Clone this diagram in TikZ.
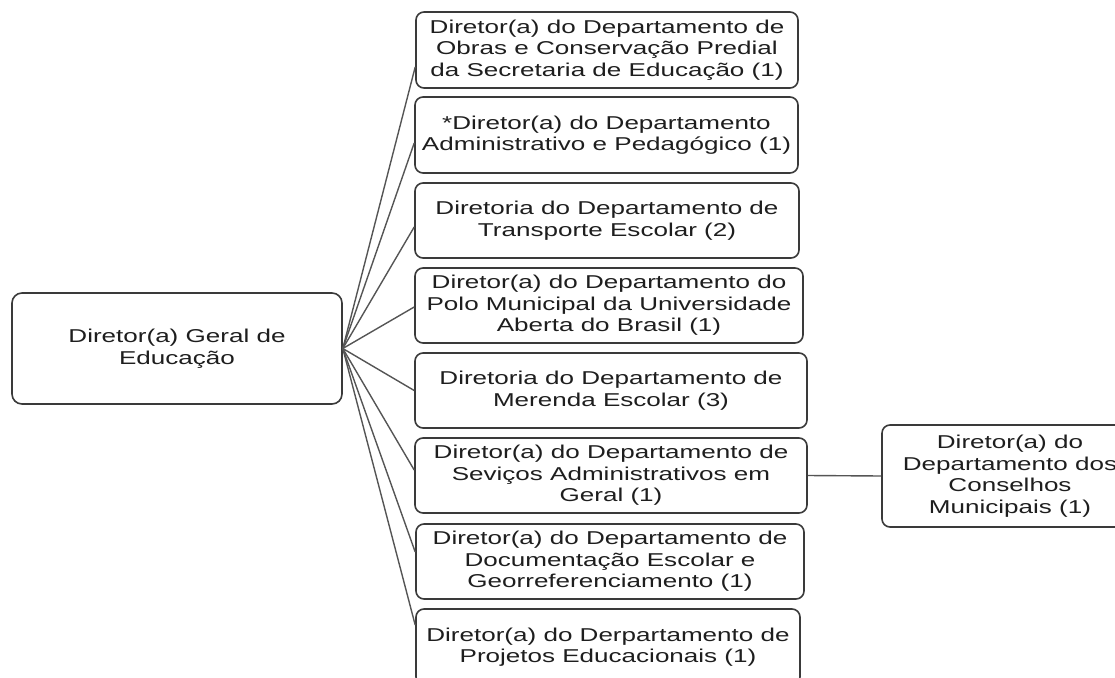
\documentclass[tikz,border=0pt]{standalone}
\usepackage{fontspec}
\setmainfont{Liberation Sans}[FakeStretch=1.4]
\definecolor{bordc}{HTML}{3A3A3A}
\definecolor{linec}{HTML}{555555}
\definecolor{txtc}{HTML}{1E1E1E}
\begin{document}
\begin{tikzpicture}[x=1pt,y=-1pt,
  box/.style={draw=bordc, line width=1.6pt, rounded corners=8pt, fill=white,
    align=center, inner sep=0pt, font=\fontsize{18.6}{21.5}\selectfont, text=txtc},
  link/.style={draw=linec, line width=1.4pt}]
\clip (0,0) rectangle (1115,677);
\node[box, minimum width=330pt, minimum height=111pt, rounded corners=10pt] (root) at (177,348.5) {Diretor(a) Geral de\\Educação};
\node[box, minimum width=382pt, minimum height=76pt] (b1) at (607,50) {Diretor(a) do Departamento de\\Obras e Conservação Predial\\da Secretaria de Educação (1)};
\node[box, minimum width=383pt, minimum height=76pt] (b2) at (606.5,135) {*Diretor(a) do Departamento\\Administrativo e Pedagógico (1)};
\node[box, minimum width=384pt, minimum height=75pt] (b3) at (607,220.5) {Diretoria do Departamento de\\Transporte Escolar (2)};
\node[box, minimum width=388pt, minimum height=75pt] (b4) at (609,305.5) {Diretor(a) do Departamento do\\Polo Municipal da Universidade\\Aberta do Brasil (1)};
\node[box, minimum width=392pt, minimum height=75pt] (b5) at (611,390.5) {Diretoria do Departamento de\\Merenda Escolar (3)};
\node[box, minimum width=392pt, minimum height=75pt] (b6) at (611,475.5) {Diretor(a) do Departamento de\\Seviços Administrativos em\\Geral (1)};
\node[box, minimum width=388pt, minimum height=75pt] (b7) at (610,561.5) {Diretor(a) do Departamento de\\Documentação Escolar e\\Georreferenciamento (1)};
\node[box, minimum width=384pt, minimum height=76pt] (b8) at (608,647) {Diretor(a) do Derpartamento de\\Projetos Educacionais (1)};
\node[box, minimum width=256pt, minimum height=102pt] (r1) at (1010,476) {Diretor(a) do\\Departamento dos\\Conselhos\\Municipais (1)};
\draw[link] (root.east) -- ([yshift=-17pt]b1.west);
\draw[link] (root.east) -- ([yshift=-8pt]b2.west);
\draw[link] (root.east) -- ([yshift=-6.5pt]b3.west);
\draw[link] (root.east) -- ([yshift=-1.5pt]b4.west);
\draw[link] (root.east) -- (b5.west);
\draw[link] (root.east) -- ([yshift=5.5pt]b6.west);
\draw[link] (root.east) -- ([yshift=9.5pt]b7.west);
\draw[link] (root.east) -- ([yshift=22pt]b8.west);
\draw[link] (b6.east) -- (r1.west);
\end{tikzpicture}
\end{document}
